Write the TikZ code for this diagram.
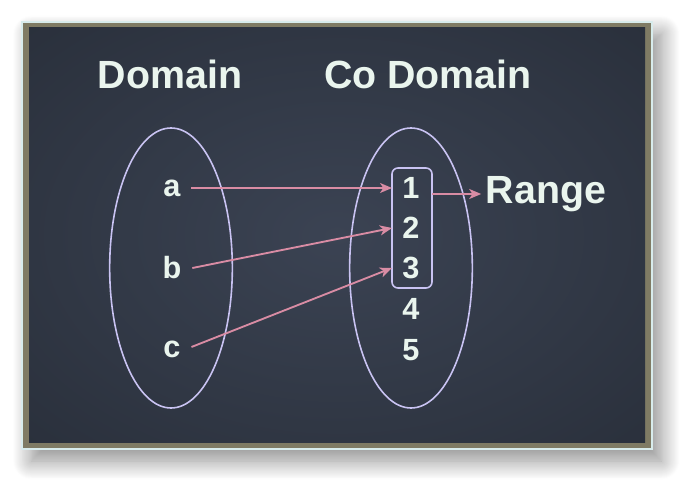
\documentclass[tikz,border=0pt]{standalone}
\usepackage{fontspec}
\setmainfont{Liberation Sans}
\usetikzlibrary{arrows.meta,shapes.geometric,shadows.blur}
\definecolor{boardin}{HTML}{3B4353}
\definecolor{boardout}{HTML}{282E39}
\definecolor{frame}{HTML}{7F7B64}
\definecolor{frameedge}{HTML}{D8ECEC}
\definecolor{chalk}{HTML}{EAF5EE}
\definecolor{setline}{HTML}{C9C3F2}
\definecolor{maplink}{HTML}{D98CA4}
\pgfdeclareradialshading{boardglow}{\pgfpoint{0bp}{0bp}}{color(0bp)=(boardin); color(40bp)=(boardout); color(72bp)=(boardout)}
\tikzset{
  title/.style={text=chalk,font=\bfseries\fontsize{29.5}{34}\selectfont},
  elem/.style={text=chalk,font=\bfseries\fontsize{23}{27}\selectfont,inner sep=8pt},
  set/.style={draw=setline,line width=1.2pt,ellipse,minimum width=92pt,minimum height=210pt},
  link/.style={draw=maplink,line width=1.4pt,-{Stealth[length=9pt,width=7.5pt,inset=2.5pt]}},
}
\begin{document}
\begin{tikzpicture}[x=0.75pt,y=-0.75pt]
      \useasboundingbox (0,0) rectangle (694,491);
      \draw[frameedge,fill=frame,line width=0.8pt,
        blur shadow={shadow xshift=7pt,shadow yshift=-9pt,shadow blur radius=14pt,
          shadow blur steps=20,shadow opacity=45}]
        (22,22) rectangle (652,449);
      \shade[shading=boardglow] (29,28) rectangle (645,443);
      \draw
        (171,268) node[set] (dom){}
        (411,268) node[set] (codom){}
        (170,74) node[title] (domtitle){Domain}
        (428,74) node[title] (codomtitle){Co Domain}
        (172,188) node[elem] (a){a}
        (172,268) node[elem] (b){b}
        (172,349) node[elem] (c){c}
        (411,188) node[elem] (n1){1}
        (411,228) node[elem] (n2){2}
        (411,268) node[elem] (n3){3}
        (411,309) node[elem] (n4){4}
        (411,350) node[elem] (n5){5}
        (546,194) node[title] (range){Range};
      \draw[setline,line width=1.2pt,rounded corners=4.5pt]
        (392,168) rectangle (432,288);
      \coordinate (boxw) at (392,228);
      \coordinate (boxe) at (432,228);
      \begin{scope}[link]
        \draw (a.east) to (n1 -| boxw);
        \draw (b.east) to (n2 -| boxw);
        \draw ([yshift=1.5pt]c.east) to (n3 -| boxw);
        \draw (boxe |- range) to (range.west);
      \end{scope}
    \end{tikzpicture}
\end{document}
